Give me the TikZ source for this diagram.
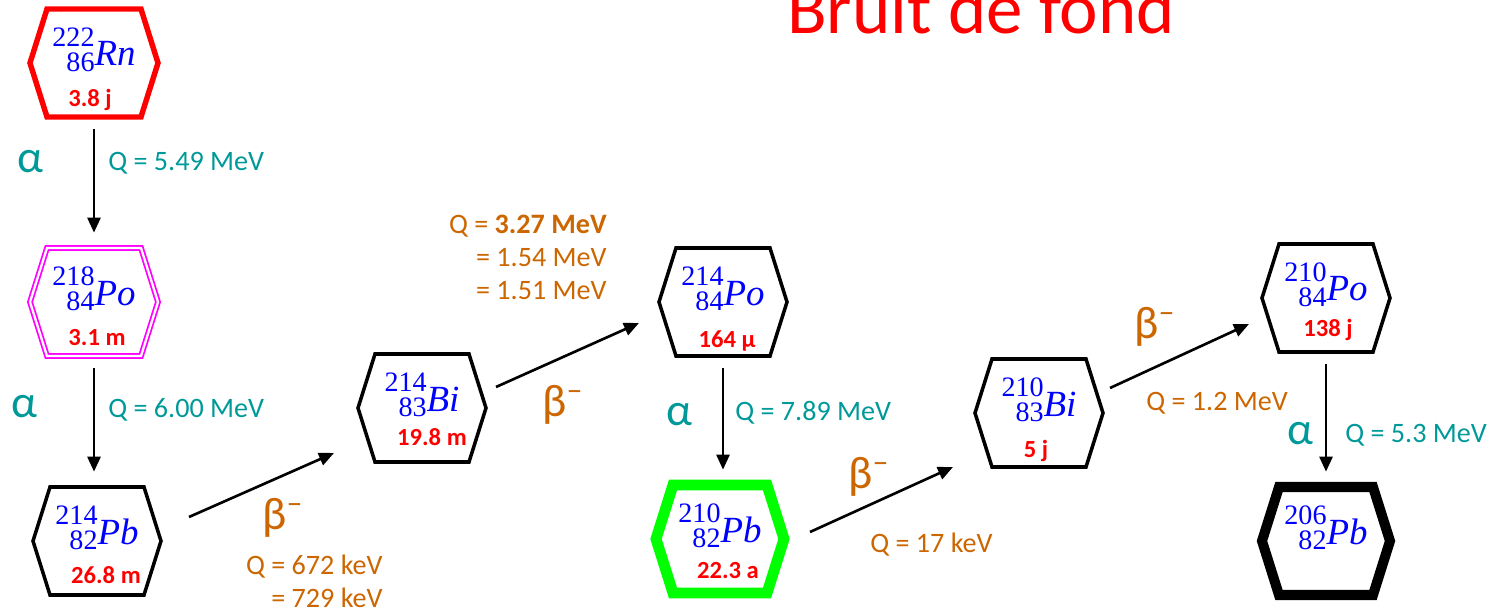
\documentclass[tikz,border=0pt]{standalone}
\usepackage[no-math]{fontspec}
\setmainfont{Carlito}
\newfontfamily\nuclfont{Liberation Serif}
\usetikzlibrary{arrows.meta}

\definecolor{isoblue}{RGB}{0,0,255}
\definecolor{isored}{RGB}{255,0,0}
\definecolor{alphacol}{RGB}{0,153,153}
\definecolor{betacol}{RGB}{204,102,0}
\definecolor{pomagenta}{RGB}{255,0,255}
\definecolor{pbgreen}{RGB}{0,255,0}

% mass and charge numbers stacked in front of the symbol
\newcommand\nucl[3]{\raisebox{-3.4pt}{\fontsize{16}{13.6}\selectfont
  \begin{tabular}[b]{@{}r@{}}#1\\#2\end{tabular}}\textit{#3}}

\tikzset{
  hexa/.pic={\draw[pic actions] (-64,0) -- (-47,54) -- (47,54) -- (64,0) -- (47,-54) -- (-47,-54) -- cycle;},
  hexthin/.style={draw=black, line width=2pt},
  hexred/.style={draw=isored, line width=3.1pt},
  hexdouble/.style={draw=pomagenta, line width=1pt, double=white, double distance=1.3pt},
  hexgreen/.style={draw=pbgreen, line width=6.2pt},
  hexheavy/.style={draw=black, line width=5.7pt},
  nuc/.style={minimum width=2.56cm, minimum height=2.16cm, inner sep=0pt,
    text height=0.9cm, text depth=0.78cm, text=isoblue, font=\nuclfont\fontsize{21}{24}\selectfont},
  life/.style={anchor=base, inner sep=0pt, text=isored, font=\fontsize{14}{17}\selectfont\bfseries},
  decay/.style={line width=1.5pt, -{Triangle[length=0.3cm,width=0.26cm]}},
  fall/.style={decay, shorten <=0.24cm, shorten >=0.3cm},
  alphalbl/.style={inner sep=0pt, text=alphacol, font=\fontsize{26}{30}\selectfont},
  betalbl/.style={inner sep=0pt, text=betacol, font=\fontsize{26}{30}\selectfont},
  qalpha/.style={anchor=west, inner sep=0pt, text=alphacol, font=\fontsize{16}{18.8}\selectfont},
  qbeta/.style={anchor=west, inner sep=0pt, align=right, text=betacol, font=\fontsize{16}{18.8}\selectfont},
  headline/.style={anchor=base, inner sep=0pt, text=isored, font=\fontsize{41.5}{50}\selectfont}
}

\begin{document}
\begin{tikzpicture}[x=0.02cm,y=0.02cm]
  \useasboundingbox (0,0) rectangle (1499,613);

  \node[headline] (title) at (981,579) {Bruit de fond};

  % the chain
  \node[nuc] (rn)    at (94,550)   {\nucl{222}{86}{Rn}};
  \node[nuc] (po218) at (94,311)   {\nucl{218}{84}{Po}};
  \node[nuc] (pb214) at (97,72)    {\nucl{214}{82}{Pb}};
  \node[nuc] (bi214) at (422,205)  {\nucl{214}{83}{Bi}};
  \node[nuc] (po214) at (723,311)  {\nucl{214}{84}{Po}};
  \node[nuc] (pb210) at (720,74)   {\nucl{210}{82}{Pb}};
  \node[nuc] (bi210) at (1039,200) {\nucl{210}{83}{Bi}};
  \node[nuc] (po210) at (1326,315) {\nucl{210}{84}{Po}};
  \node[nuc] (pb206) at (1326,72)  {\nucl{206}{82}{Pb}};

  \foreach \n in {pb214,bi214,po214,bi210,po210}{
    \pic[hexthin] at (\n) {hexa};
  }
  \pic[hexred] at (rn) {hexa};
  \pic[hexdouble] at (po218) {hexa};
  \pic[hexgreen] at (pb210) {hexa};
  \pic[hexheavy] at (pb206) {hexa};

  % half-lives
  \foreach \n/\dx/\dy/\t in {rn/-4/44/3.8 j, po218/3/43/3.1 m, pb214/9/42/26.8 m,
      bi214/10/37/19.8 m, po214/4/45/164 µ, pb210/8/39/22.3 a, bi210/-3/44/5 j, po210/2/39/138 j}{
    \node[life] (\n-t) at ([shift={(\dx,-\dy)}]\n.center) {\t};
  }

  % alpha decays
  \draw[fall] (rn.south) -- (rn.south |- po218.north);
  \draw[fall] (po218.south) -- (po218.south |- pb214.north);
  \draw[fall] (po214.south) -- (po214.south |- pb210.north);
  \draw[fall] (po210.south) -- (po210.south |- pb206.north);

  \node[alphalbl] (a1) at (30,451) {α};
  \node[alphalbl] (a2) at (24,206) {α};
  \node[alphalbl] (a3) at (679,198) {α};
  \node[alphalbl] (a4) at (1300,179) {α};
  \node[qalpha] (qa1) at (108,450) {Q = 5.49 MeV};
  \node[qalpha] (qa2) at (108,203) {Q = 6.00 MeV};
  \node[qalpha] (qa3) at (735,200) {Q = 7.89 MeV};
  \node[qalpha] (qa4) at (1345,178) {Q = 5.3 MeV};

  % beta decays
  \draw[decay] ([shift={(92,24)}]pb214.center) -- ([shift={(-88,-45)}]bi214.center);
  \draw[decay] ([shift={(74,21)}]bi214.center) -- ([shift={(-84,-21)}]po214.center);
  \draw[decay] ([shift={(90,7)}]pb210.center) -- ([shift={(-86,-54)}]bi210.center);
  \draw[decay] ([shift={(71,25)}]bi210.center) -- ([shift={(-77,-26)}]po210.center);

  \node[betalbl] (b1) at (283,95) {β\textsuperscript{--}};
  \node[betalbl] (b2) at (563,208) {β\textsuperscript{--}};
  \node[betalbl] (b3) at (869,136) {β\textsuperscript{--}};
  \node[betalbl] (b4) at (1155,286) {β\textsuperscript{--}};
  \node[qbeta, anchor=east] (qb1) at (383,32) {Q = 672 keV\\= 729 keV};
  \node[qbeta, anchor=east] (qb2) at (607,356) {Q = \textbf{3.27 MeV}\\= 1.54 MeV\\= 1.51 MeV};
  \node[qbeta] (qb3) at (870,68) {Q = 17 keV};
  \node[qbeta] (qb4) at (1146,210) {Q = 1.2 MeV};
\end{tikzpicture}
\end{document}
